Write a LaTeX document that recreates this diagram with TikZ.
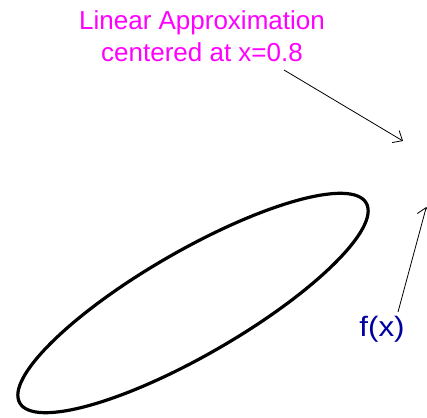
\documentclass[tikz,border=0pt]{standalone}
\usepackage{fontspec}
\setmainfont{Liberation Sans}
\usetikzlibrary{arrows.meta}
\definecolor{magtext}{RGB}{255,0,255}
\definecolor{navytext}{RGB}{0,0,160}
\tikzset{
  pointer/.style={draw=black, line width=0.8pt, -{Straight Barb[length=8pt,width=14pt,line width=0.8pt]}},
  maglabel/.style={text=magtext, font=\fontsize{26}{32}\selectfont, inner sep=0pt, anchor=base},
  funclabel/.style={text=navytext, font=\fontsize{28}{32}\selectfont, inner sep=0pt, anchor=base},
  blob/.style={draw=black, line width=3.2pt}
}
\begin{document}
\begin{tikzpicture}[x=1pt,y=1pt]
\useasboundingbox (0,0) rectangle (427,417);
\node[maglabel] (lin1) at (202,387) {Linear Approximation};
\node[maglabel] (lin2) at (202,355) {centered at x=0.8};
\node[funclabel, xscale=1.12] (fx) at (382,80.3) {f(x)};
\coordinate (a1s) at (284,347);
\coordinate (a1e) at (403,276);
\coordinate (a2s) at (398,105);
\coordinate (a2e) at (426.3,210);
\draw[pointer] (a1s) -- (a1e);
\draw[pointer] (a2s) -- (a2e);
\draw[blob, rotate around={30:(193,114)}] (193,114) ellipse [x radius=200pt, y radius=52pt];
\end{tikzpicture}
\end{document}
